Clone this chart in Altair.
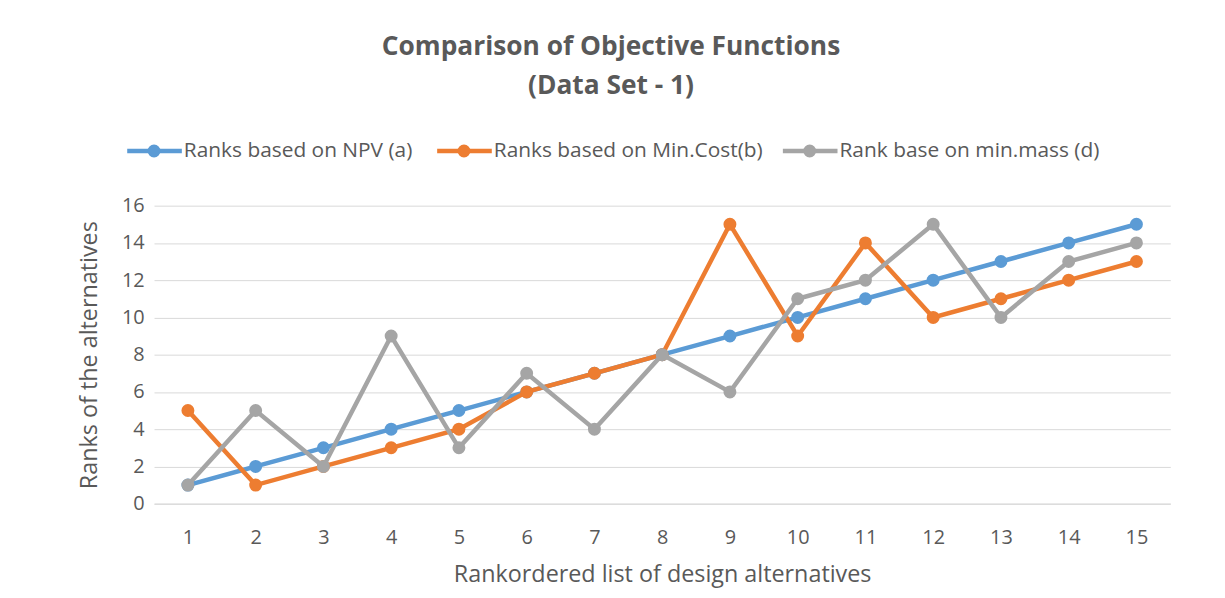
import altair as alt
import pandas as pd

alternatives = list(range(1, 16))
npv_a = [1, 2, 3, 4, 5, 6, 7, 8, 9, 10, 11, 12, 13, 14, 15]
mincost_b = [5, 1, 2, 3, 4, 6, 7, 8, 15, 9, 14, 10, 11, 12, 13]
minmass_d = [1, 5, 2, 9, 3, 7, 4, 8, 6, 11, 12, 15, 10, 13, 14]

series_names = ["Ranks based on NPV (a)", "Ranks based on Min.Cost(b)", "Rank base on min.mass (d)"]
series_values = [npv_a, mincost_b, minmass_d]
colors = ["#5B9BD5", "#ED7D31", "#A5A5A5"]

FONT = "Open Sans"
GREY_TXT = "#595959"

W, H = 1023, 300

xscale = alt.Scale(domain=[0.5, 15.5], nice=False, zero=False)
yscale = alt.Scale(domain=[0, 16], nice=False)

layers = []
for i, (name, vals, col) in enumerate(zip(series_names, series_values, colors)):
    df = pd.DataFrame({"alt": alternatives, "rank": vals, "series": name})
    base = alt.Chart(df)
    enc = dict(
        x=alt.X("alt:Q", scale=xscale,
                axis=alt.Axis(values=alternatives, title="Rankordered list of design alternatives",
                              grid=False, ticks=False, domain=True, domainColor="#D9D9D9",
                              labelFontSize=20, labelColor=GREY_TXT, labelFont=FONT,
                              labelPadding=24, titleFontSize=23.5, titleColor=GREY_TXT,
                              titleFont=FONT, titleFontWeight="normal", titlePadding=15,
                              format="d")),
        y=alt.Y("rank:Q", scale=yscale,
                axis=alt.Axis(values=list(range(0, 17, 2)), title="Ranks of the alternatives",
                              grid=True, gridColor="#D9D9D9", gridWidth=1, ticks=False,
                              domain=False, labelFontSize=20, labelColor=GREY_TXT,
                              labelFont=FONT, labelPadding=10, titleFontSize=23.5,
                              titleColor=GREY_TXT, titleFont=FONT, titleFontWeight="normal",
                              titlePadding=20)),
    )
    line = base.mark_line(color=col, strokeWidth=4.5).encode(**enc)
    pts = base.mark_point(color=col, filled=True, opacity=1, size=170).encode(**enc)
    layers += [line, pts]

# Legend (manual, Excel style)
legend_x = [-27, 285, 633]
LY = -55
for name, col, lx in zip(series_names, colors, legend_x):
    ldf = pd.DataFrame({"label": [name]})
    lb = alt.Chart(ldf)
    layers.append(lb.mark_rule(color=col, strokeWidth=4.5).encode(
        x=alt.value(lx), x2=alt.value(lx + 55), y=alt.value(LY)))
    layers.append(lb.mark_point(color=col, filled=True, opacity=1, size=170).encode(
        x=alt.value(lx + 27), y=alt.value(LY)))
    layers.append(lb.mark_text(align="left", baseline="middle", font=FONT, fontSize=21,
                               color=GREY_TXT).encode(
        x=alt.value(lx + 57), y=alt.value(LY), text="label:N"))

# Title
title_lines = ["Comparison of Objective Functions", "(Data Set - 1)"]
for k, t in enumerate(title_lines):
    layers.append(alt.Chart(pd.DataFrame({"t": [t]})).mark_text(
        align="center", baseline="middle", font=FONT, fontSize=26.5, fontWeight="bold",
        color=GREY_TXT).encode(x=alt.value(460), y=alt.value(-160 + 40 * k), text="t:N"))

chart = alt.layer(*layers).properties(
    width=W, height=H,
    autosize=alt.AutoSizeParams(type="none"),
    padding={"left": 147, "top": 197, "right": 47, "bottom": 93},
    background="white",
).configure_view(stroke=None)

chart.save("out.html", embed_options={"renderer": "svg", "actions": False})
